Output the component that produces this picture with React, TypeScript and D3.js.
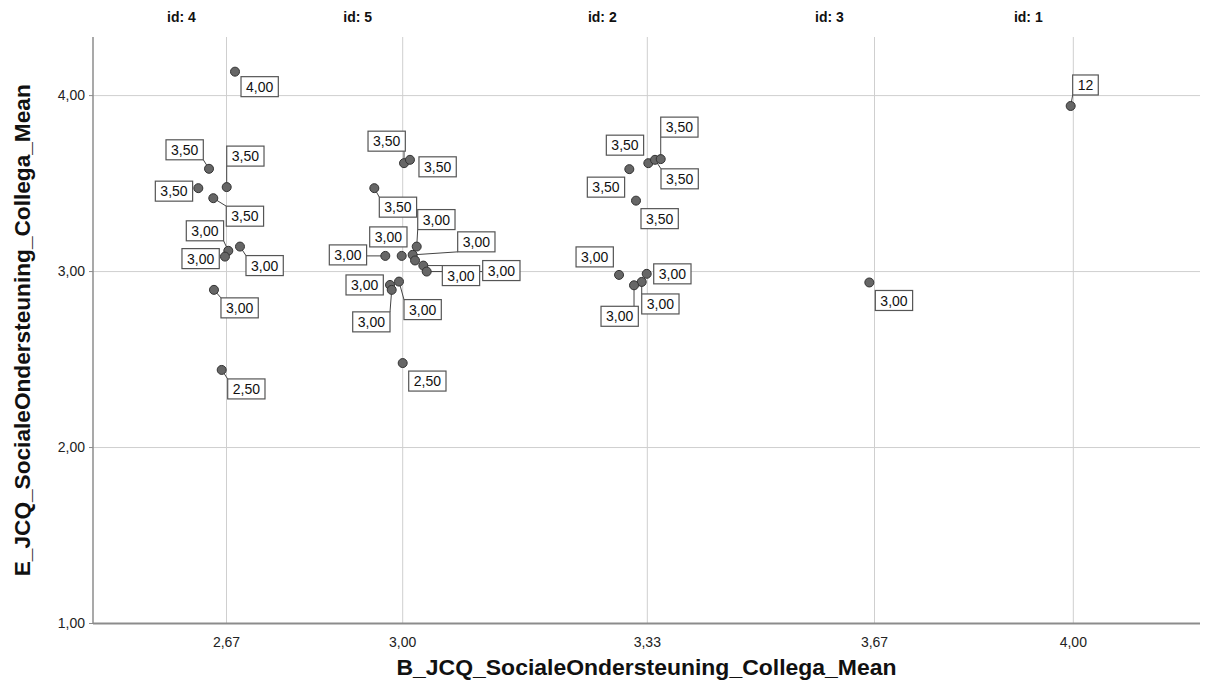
import React from "react";
import * as d3 from "d3";

// ---- data ----
const groupLabels = ["id: 4", "id: 5", "id: 2", "id: 3", "id: 1"];
const xTickValues = [2.6667, 3.0, 3.3333, 3.6667, 4.0];
const xTickLabels = ["2,67", "3,00", "3,33", "3,67", "4,00"];
const yTickValues = [1, 2, 3, 4];
const yTickLabels = ["1,00", "2,00", "3,00", "4,00"];

const pointX = [
  2.6828, 2.6336, 2.6134, 2.6671, 2.6417, 2.6701, 2.6638, 2.6922, 2.643, 2.6576,
  3.0018, 3.0099, 2.9463, 3.0191, 2.9981, 2.9671, 3.0136, 3.0168, 3.0281, 3.0327, 2.976, 2.9792, 2.993, 3.0,
  3.3088, 3.3348, 3.3446, 3.353, 3.3179, 3.2948, 3.3325, 3.3257, 3.3152,
  3.6591,
  3.9956,
];
const pointY = [
  4.136, 3.584, 3.474, 3.48, 3.417, 3.118, 3.085, 3.142, 2.896, 2.441,
  3.616, 3.635, 3.474, 3.142, 3.089, 3.089, 3.095, 3.063, 3.034, 3.0, 2.924, 2.896, 2.943, 2.48,
  3.582, 3.616, 3.635, 3.639, 3.403, 2.981, 2.987, 2.941, 2.922,
  2.938,
  3.941,
];
const pointLabel = [
  "4,00", "3,50", "3,50", "3,50", "3,50", "3,00", "3,00", "3,00", "3,00", "2,50",
  "3,50", "3,50", "3,50", "3,00", "3,00", "3,00", "3,00", "", "3,00", "3,00", "3,00", "3,00", "3,00", "2,50",
  "3,50", "3,50", "3,50", "3,50", "3,50", "3,00", "3,00", "3,00", "3,00",
  "3,00",
  "12",
];

// ---- layout (label box offsets from point centre) ----
const labelOffsets: [number, number][] = [
  [6, 5], [-43, -29], [-43, -7], [0, -41], [13, 8], [-42, -30], [-43, -8], [6, 9], [7, 8], [6, 9],
  [-36, -32], [9, -3], [5, 9], [1, -37], [-32, -29], [-56, -11], [45, -23], [0, 0], [19, 0], [56, -11], [-44, -10], [-39, 22], [5, 18], [6, 8],
  [-42, 8], [-42, -28], [6, 9], [0, -42], [5, 8], [-43, -28], [7, -10], [0, 12], [-33, 21],
  [6, 8],
  [2, -31],
];

const W = 1206;
const H = 697;
const left = 93;
const right = 1200;
const top = 37;
const bottom = 623.5;
const xRange = [226.5, 402.7, 647.3, 874.5, 1073.3];
const FONT = "'Liberation Sans', Arial, sans-serif";

export default function App() {
  const x = d3.scaleLinear().domain(xTickValues).range(xRange);
  const y = d3.scaleLinear().domain([1, 4.333]).range([bottom, top]);
  const r = 4.5;
  const boxH = 20;

  const textW = (s: string) => {
    let w = 0;
    for (const c of s) w += c === "," ? 3.9 : 7.8;
    return w;
  };

  const labels = pointLabel.map((lab, i) => {
    if (!lab) return null;
    const px = x(pointX[i]);
    const py = y(pointY[i]);
    const bw = textW(lab) + 10;
    const [dx, dy] = labelOffsets[i];
    const bx = px + dx;
    const by = py + dy;
    const nx = Math.max(bx, Math.min(px, bx + bw));
    const ny = Math.max(by, Math.min(py, by + boxH));
    const dist = Math.hypot(nx - px, ny - py);
    return { i, lab, px, py, bx, by, bw, nx, ny, leader: dist - r > 5.5 };
  });

  return (
    <div style={{ position: "absolute", left: 0, top: 0 }}>
      <svg width={W} height={H} style={{ display: "block", background: "#fff" }} fontFamily={FONT}>
        {/* gridlines */}
        {yTickValues.slice(1).map((v) => (
          <line key={"gy" + v} x1={left} x2={right} y1={y(v)} y2={y(v)} stroke="#cfcfcf" strokeWidth={1} />
        ))}
        {xTickValues.map((v) => (
          <line key={"gx" + v} x1={x(v)} x2={x(v)} y1={top} y2={bottom} stroke="#cfcfcf" strokeWidth={1} />
        ))}
        {/* axes */}
        <line x1={left} x2={left} y1={top} y2={bottom} stroke="#8c8c8c" strokeWidth={1.5} />
        <line x1={left} x2={right} y1={bottom} y2={bottom} stroke="#8c8c8c" strokeWidth={2} />
        {yTickValues.map((v, i) => (
          <g key={"yt" + v}>
            <line x1={left - 4} x2={left} y1={y(v)} y2={y(v)} stroke="#8c8c8c" />
            <text x={85} y={y(v)} dy="0.35em" textAnchor="end" fontSize={14} fill="#222">
              {yTickLabels[i]}
            </text>
          </g>
        ))}
        {xTickValues.map((v, i) => (
          <text key={"xt" + v} x={x(v)} y={642} dy="0.35em" textAnchor="middle" fontSize={14} fill="#222">
            {xTickLabels[i]}
          </text>
        ))}
        {groupLabels.map((g, i) => (
          <text key={g} x={x(xTickValues[i]) - 45} y={17} dy="0.35em" textAnchor="middle" fontSize={14} fontWeight="bold" fill="#111">
            {g}
          </text>
        ))}
        {/* titles */}
        <text x={(left + right) / 2} y={667} dy="0.35em" textAnchor="middle" fontSize={22} fontWeight="bold" fill="#111" textLength={500} lengthAdjust="spacingAndGlyphs">
          B_JCQ_SocialeOndersteuning_Collega_Mean
        </text>
        <text transform={`translate(22,${(top + bottom) / 2}) rotate(-90)`} dy="0.35em" textAnchor="middle" fontSize={22} fontWeight="bold" fill="#111" textLength={492} lengthAdjust="spacingAndGlyphs">
          E_JCQ_SocialeOndersteuning_Collega_Mean
        </text>
        {/* leaders */}
        {labels.map((l) =>
          l && l.leader ? (
            <line key={"ld" + l.i} x1={l.px} y1={l.py} x2={l.nx} y2={l.ny} stroke="#444" strokeWidth={1} />
          ) : null
        )}
        {/* points */}
        {pointX.map((v, i) => (
          <circle key={"p" + i} cx={x(v)} cy={y(pointY[i])} r={r} fill="#666" stroke="#333" strokeWidth={1} />
        ))}
        {/* label boxes */}
        {labels.map((l) =>
          l ? (
            <g key={"lb" + l.i}>
              <rect x={l.bx} y={l.by} width={l.bw} height={boxH} fill="#fff" stroke="#555" strokeWidth={1.2} />
              <text x={l.bx + l.bw / 2} y={l.by + boxH / 2} dy="0.36em" textAnchor="middle" fontSize={14} fill="#111">
                {l.lab}
              </text>
            </g>
          ) : null
        )}
      </svg>
    </div>
  );
}
